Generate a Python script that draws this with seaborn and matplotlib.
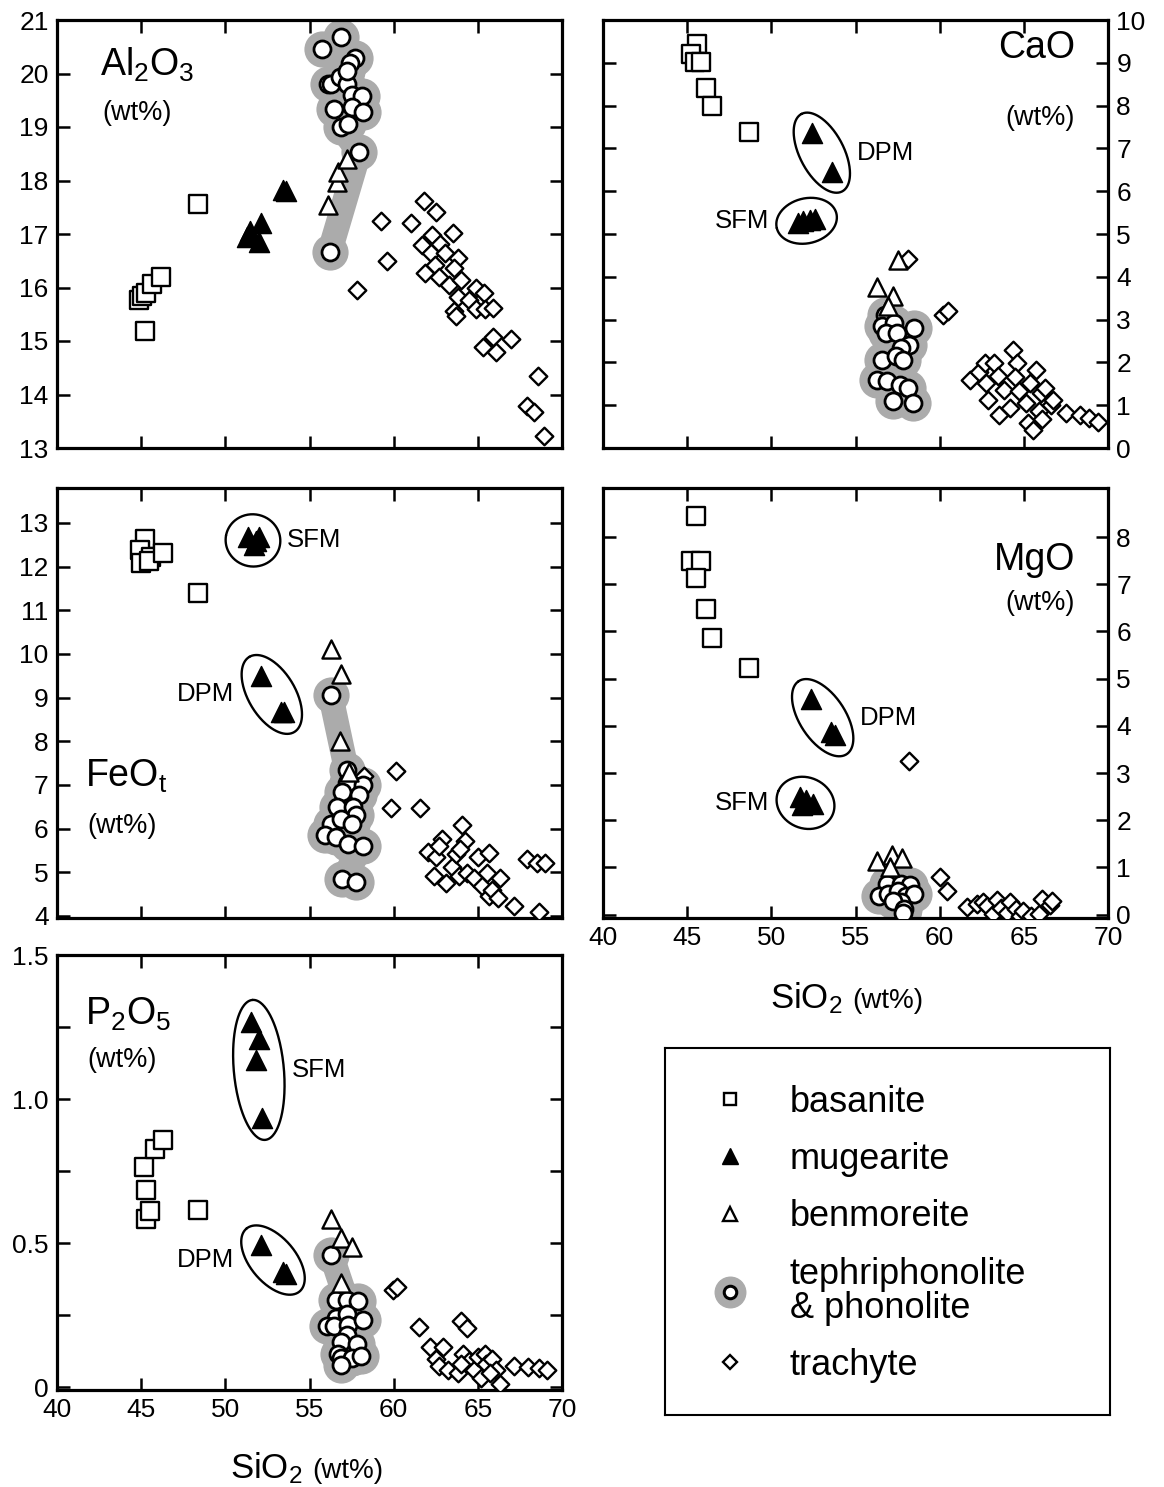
import numpy as np
import pandas as pd
import matplotlib
matplotlib.use("Agg")
import matplotlib.pyplot as plt
import seaborn as sns
from matplotlib.lines import Line2D

sns.set_theme(style="ticks")
plt.rcParams["font.family"] = ["Liberation Sans", "DejaVu Sans"]
plt.rcParams["mathtext.fontset"] = "custom"
plt.rcParams["mathtext.rm"] = "Liberation Sans"
plt.rcParams["mathtext.it"] = "Liberation Sans:italic"
plt.rcParams["mathtext.bf"] = "Liberation Sans:bold"
plt.rcParams["mathtext.default"] = "regular"
plt.rcParams["text.color"] = "black"
plt.rcParams["axes.labelcolor"] = "black"
plt.rcParams["xtick.color"] = "black"
plt.rcParams["ytick.color"] = "black"
plt.rcParams["legend.labelcolor"] = "black"

# ---------------- data (SiO2 wt% on x) ----------------
# Al2O3 panel
al_bas_x = [44.9, 45.05, 45.3, 45.65, 46.2, 45.25, 48.4]
al_bas_y = [15.77, 15.85, 15.9, 16.06, 16.2, 15.18, 17.56]
al_mug_x = [51.3, 51.45, 52.0, 52.1, 53.4, 53.6]
al_mug_y = [16.95, 17.05, 16.85, 17.2, 17.83, 17.8]
al_ben_x = [56.1, 56.65, 56.7, 57.25]
al_ben_y = [17.55, 17.98, 18.15, 18.4]
al_pho_x = [55.75, 56.9, 57.7, 57.4, 56.1, 56.3, 56.8, 57.2, 57.5, 58.1, 56.45, 57.5, 58.2, 56.85, 57.3, 57.2, 57.95, 56.2]
al_pho_y = [20.46, 20.69, 20.29, 20.2, 19.8, 19.8, 19.94, 19.8, 19.59, 19.58, 19.33, 19.38, 19.28, 19.0, 19.06, 20.05, 18.53, 16.67]
al_tra_x = [57.8, 59.25, 59.6, 61.0, 61.8, 62.5, 63.55, 62.25, 61.7, 62.2, 62.75, 63.05, 61.85, 62.45, 62.7, 63.3, 63.8, 63.6,
            64.0, 63.6, 63.7, 63.85, 64.5, 64.9, 64.9, 65.35, 65.45, 65.9, 65.3, 65.9, 66.1, 66.95, 68.55, 67.9, 68.35, 68.95]
al_tra_y = [15.96, 17.24, 16.49, 17.21, 17.62, 17.41, 17.01, 16.98, 16.79, 16.64, 16.81, 16.64, 16.27, 16.42, 16.2, 16.05, 16.55, 16.36,
            16.14, 15.56, 15.46, 15.83, 15.77, 15.99, 15.59, 15.9, 15.59, 15.62, 14.89, 15.08, 14.8, 15.03, 14.35, 13.78, 13.67, 13.22]

# CaO panel
ca_bas_x = [45.6, 45.25, 45.45, 45.85, 46.1, 46.5, 48.65]
ca_bas_y = [9.45, 9.2, 9.02, 9.02, 8.42, 7.99, 7.39]
ca_mug_x = [52.4, 53.6, 51.6, 51.9, 52.3, 52.6]
ca_mug_y = [7.35, 6.45, 5.25, 5.3, 5.33, 5.35]
ca_mug_grp = ["DPM", "DPM", "SFM", "SFM", "SFM", "SFM"]
ca_ben_x = [57.5, 56.3, 57.2, 56.95]
ca_ben_y = [4.4, 3.76, 3.54, 3.31]
ca_pho_x = [56.75, 56.6, 57.3, 58.45, 56.8, 57.45, 58.2, 57.7, 56.6, 57.4, 57.85, 56.25, 56.9, 57.65, 58.1, 57.2, 58.4]
ca_pho_y = [3.11, 2.84, 2.92, 2.8, 2.69, 2.69, 2.41, 2.34, 2.06, 2.14, 2.06, 1.6, 1.56, 1.48, 1.4, 1.09, 1.05]
ca_tra_x = [58.1, 60.2, 60.5, 61.8, 62.35, 62.7, 63.2, 62.75, 62.9, 63.45, 63.55, 63.8, 64.2, 64.35, 64.6, 64.7, 64.45, 65.15,
            65.25, 65.55, 65.35, 65.75, 65.9, 66.0, 66.1, 66.25, 66.6, 66.75, 67.5, 68.35, 68.9, 69.4]
ca_tra_y = [4.42, 3.11, 3.2, 1.58, 1.77, 1.99, 1.99, 1.52, 1.13, 1.69, 0.78, 1.36, 0.94, 2.3, 1.99, 1.33, 1.67, 1.05,
            0.59, 0.43, 1.52, 1.83, 0.86, 1.29, 0.67, 1.41, 1.01, 1.13, 0.82, 0.78, 0.7, 0.6]

# FeOt panel
fe_bas_x = [45.25, 44.95, 45.6, 45.0, 45.45, 46.3, 48.4]
fe_bas_y = [12.63, 12.38, 12.21, 12.09, 12.13, 12.32, 11.4]
fe_mug_x = [51.35, 51.7, 52.0, 51.85, 52.1, 53.3, 53.5]
fe_mug_y = [12.67, 12.5, 12.67, 12.58, 9.5, 8.66, 8.66]
fe_mug_grp = ["SFM", "SFM", "SFM", "SFM", "DPM", "DPM", "DPM"]
fe_ben_x = [56.3, 56.85, 56.8, 57.35]
fe_ben_y = [10.12, 9.54, 8.0, 7.3]
fe_pho_x = [56.25, 57.2, 57.2, 56.95, 58.15, 57.95, 56.65, 57.6, 57.75, 56.3, 56.85, 57.5, 55.9, 56.55, 57.3, 58.15, 56.95, 57.75]
fe_pho_y = [9.06, 7.34, 7.04, 6.84, 7.0, 6.77, 6.5, 6.5, 6.3, 6.11, 6.22, 6.11, 5.84, 5.8, 5.65, 5.61, 4.84, 4.78]
fe_tra_x = [58.25, 60.15, 59.85, 61.55, 62.05, 62.5, 62.85, 62.4, 63.1, 62.7, 63.45, 63.7, 64.05, 64.25, 63.95, 63.9, 64.35,
            64.8, 65.0, 65.25, 65.65, 65.55, 65.65, 65.85, 66.2, 66.3, 67.15, 67.95, 68.5, 69.0, 68.65]
fe_tra_y = [7.21, 7.32, 6.47, 6.47, 5.47, 5.34, 5.76, 4.91, 4.76, 5.6, 5.11, 5.41, 6.07, 5.72, 5.53, 4.91, 4.99,
            4.87, 5.34, 4.68, 5.45, 4.99, 4.45, 4.6, 4.41, 4.87, 4.23, 5.3, 5.22, 5.22, 4.08]

# MgO panel
mg_bas_x = [45.55, 45.25, 45.85, 45.55, 46.1, 46.5, 48.7]
mg_bas_y = [8.44, 7.49, 7.49, 7.13, 6.47, 5.86, 5.23]
mg_mug_x = [52.35, 53.55, 53.8, 51.7, 52.05, 52.5, 51.85]
mg_mug_y = [4.56, 3.87, 3.8, 2.5, 2.43, 2.35, 2.32]
mg_mug_grp = ["DPM", "DPM", "DPM", "SFM", "SFM", "SFM", "SFM"]
mg_ben_x = [56.3, 57.15, 57.75, 57.05]
mg_ben_y = [1.13, 1.27, 1.2, 1.0]
mg_pho_x = [56.85, 57.7, 58.25, 56.4, 56.95, 57.5, 58.0, 58.45, 57.7, 57.2, 57.9, 57.85]
mg_pho_y = [0.66, 0.66, 0.62, 0.4, 0.44, 0.51, 0.4, 0.44, 0.26, 0.3, 0.12, 0.04]
mg_tra_x = [58.15, 60.0, 60.45, 61.65, 62.2, 62.6, 62.8, 63.15, 63.4, 63.65, 64.0, 64.2, 64.55, 64.75, 64.95, 65.4, 65.9, 66.1, 66.55, 66.7]
mg_tra_y = [3.26, 0.8, 0.51, 0.17, 0.22, 0.26, 0.19, 0.02, 0.32, 0.15, 0.04, 0.27, 0.12, -0.02, 0.08, -0.03, 0.01, 0.33, 0.2, 0.3]

# P2O5 panel
p_bas_x = [45.15, 45.3, 45.3, 45.55, 45.85, 46.3, 48.4]
p_bas_y = [0.765, 0.684, 0.584, 0.612, 0.825, 0.859, 0.614]
p_mug_x = [51.55, 52.0, 51.8, 52.2, 52.1, 53.4, 53.6]
p_mug_y = [1.267, 1.21, 1.135, 0.934, 0.492, 0.398, 0.392]
p_mug_grp = ["SFM", "SFM", "SFM", "SFM", "DPM", "DPM", "DPM"]
p_ben_x = [56.3, 56.85, 57.5, 56.85]
p_ben_y = [0.584, 0.518, 0.488, 0.361]
p_pho_x = [56.3, 56.55, 57.2, 57.9, 56.6, 57.25, 56.05, 56.45, 57.3, 58.15, 57.2, 56.85, 57.8, 56.7, 56.85, 57.5, 58.05, 56.9]
p_pho_y = [0.458, 0.301, 0.301, 0.299, 0.241, 0.253, 0.211, 0.211, 0.217, 0.233, 0.181, 0.157, 0.151, 0.114, 0.102, 0.102, 0.108, 0.078]
p_tra_x = [59.95, 60.2, 61.5, 64.0, 64.35, 62.15, 62.95, 62.5, 62.7, 63.25, 63.8, 64.1, 64.45, 64.0, 64.75, 65.0, 65.2, 65.4,
           65.5, 65.85, 66.05, 65.7, 66.3, 67.15, 68.0, 68.65, 69.1]
p_tra_y = [0.337, 0.349, 0.207, 0.231, 0.205, 0.139, 0.139, 0.097, 0.072, 0.06, 0.048, 0.115, 0.091, 0.079, 0.06, 0.103, 0.03, 0.115,
           0.079, 0.097, 0.06, 0.048, 0.012, 0.075, 0.07, 0.066, 0.06]

legend_labels = ["basanite", "mugearite", "benmoreite", "tephriphonolite\n& phonolite", "trachyte"]

# ---------------- styling ----------------
W, H = 1164, 1487
BLOB = "#ababab"
EDGE = 1.7
fig = plt.figure(figsize=(W / 100, H / 100), dpi=100)
fig.patch.set_facecolor("white")


def make_axes(left, top, right, bottom):
    return fig.add_axes([left / W, 1 - bottom / H, (right - left) / W, (bottom - top) / H])


def setup(ax, ylim, yticks, ylabels, side, xlabels):
    ax.set_facecolor("white")
    ax.set_xlim(40, 70)
    ax.set_ylim(*ylim)
    ax.set_xticks(list(range(40, 71, 5)))
    ax.set_yticks(yticks)
    ax.set_yticklabels(ylabels)
    ax.tick_params(direction="in", length=9, width=1.8, top=True, right=True,
                   labelsize=19, pad=6, colors="black")
    ax.tick_params(axis="y", labelleft=(side == "left"), labelright=(side == "right"))
    ax.tick_params(axis="x", labelbottom=xlabels)
    for sp in ax.spines.values():
        sp.set_linewidth(2.3)
        sp.set_color("black")
    ax.set_xlabel("")
    ax.set_ylabel("")
    ax.grid(False)


def blob(ax, xs, ys):
    order = np.argsort(ys)
    df = pd.DataFrame({"x": np.asarray(xs)[order], "y": np.asarray(ys)[order]})
    sns.lineplot(data=df, x="x", y="y", sort=False, estimator=None, color=BLOB, lw=18,
                 solid_capstyle="round", solid_joinstyle="round", ax=ax, zorder=1)
    sns.scatterplot(data=df, x="x", y="y", s=680, color=BLOB, linewidth=0, ax=ax, zorder=1)


def points(ax, bx, by, mx, my, nx, ny, px, py, tx, ty):
    blob(ax, px, py)
    sns.scatterplot(x=tx, y=ty, marker="D", s=80, color="white", edgecolor="black", linewidth=EDGE, ax=ax, zorder=3)
    sns.scatterplot(x=px, y=py, marker="o", s=150, color="white", edgecolor="black", linewidth=EDGE + 0.3, ax=ax, zorder=4)
    sns.scatterplot(x=nx, y=ny, marker="^", s=170, color="white", edgecolor="black", linewidth=EDGE, ax=ax, zorder=5)
    sns.scatterplot(x=bx, y=by, marker="s", s=150, color="white", edgecolor="black", linewidth=EDGE, ax=ax, zorder=5)
    sns.scatterplot(x=mx, y=my, marker="^", s=210, color="black", edgecolor="black", linewidth=1, ax=ax, zorder=5)


def ring(ax, xs, ys, label, side, pad=22, rmin=22):
    pts = ax.transData.transform(np.column_stack([xs, ys]))
    c = pts.mean(axis=0)
    d = pts - c
    if np.allclose(d, 0):
        u = np.array([1.0, 0.0])
    else:
        _, v = np.linalg.eigh(d.T @ d)
        u = v[:, -1]
    n = np.array([-u[1], u[0]])
    pu, pn = d @ u, d @ n
    c = c + u * (pu.max() + pu.min()) / 2 + n * (pn.max() + pn.min()) / 2
    a = max((pu.max() - pu.min()) / 2 + pad, rmin)
    b = max((pn.max() - pn.min()) / 2 + pad, rmin)
    t = np.linspace(0, 2 * np.pi, 240)
    ring_px = c + np.outer(a * np.cos(t), u) + np.outer(b * np.sin(t), n)
    rd = ax.transData.inverted().transform(ring_px)
    ax.plot(rd[:, 0], rd[:, 1], color="black", lw=1.7, zorder=6)
    if side == "right":
        tx, ha = ring_px[:, 0].max() + 7, "left"
    else:
        tx, ha = ring_px[:, 0].min() - 7, "right"
    td = ax.transData.inverted().transform([[tx, c[1]]])[0]
    ax.text(td[0], td[1], label, ha=ha, va="center", fontsize=18.5, color="black", zorder=7)


def rings(ax, mx, my, grp, sides):
    mx, my, grp = np.asarray(mx), np.asarray(my), np.asarray(grp)
    for g, side in sides.items():
        m = grp == g
        ring(ax, mx[m], my[m], g, side)


def oxide_label(ax, name, x, y1, y2, ha):
    ax.text(x, y1, name, transform=ax.transAxes, ha=ha, va="baseline", fontsize=27, color="black")
    ax.text(x + (0.005 if ha == "left" else 0), y2, "(wt%)", transform=ax.transAxes,
            ha=ha, va="baseline", fontsize=19.5, color="black")


def sio2_label(ax, xsplit, y):
    ax.text(xsplit - 0.01, y, "SiO$_2$", transform=ax.transAxes, ha="right", va="baseline", fontsize=25, color="black")
    ax.text(xsplit + 0.008, y, "(wt%)", transform=ax.transAxes, ha="left", va="baseline", fontsize=20, color="black")


# ---------------- panels ----------------
ax_al = make_axes(57, 20, 562, 448)
ax_ca = make_axes(603, 20, 1108, 448)
ax_fe = make_axes(57, 488, 562, 918)
ax_mg = make_axes(603, 488, 1108, 918)
ax_p = make_axes(57, 955, 562, 1390)

LIMS = {"al": (13, 21), "ca": (0, 10), "fe": (3.95, 13.8), "mg": (-0.07, 9.04), "p": (-0.01, 1.5)}

setup(ax_al, LIMS["al"], list(range(13, 22)), [str(v) for v in range(13, 22)], "left", False)
setup(ax_ca, LIMS["ca"], list(range(0, 11)), [str(v) for v in range(0, 11)], "right", False)
setup(ax_fe, LIMS["fe"], list(range(4, 14)), [str(v) for v in range(4, 14)], "left", False)
setup(ax_mg, LIMS["mg"], list(range(0, 9)), [str(v) for v in range(0, 9)], "right", True)
setup(ax_p, LIMS["p"], [0, 0.25, 0.5, 0.75, 1.0, 1.25, 1.5], ["0", "", "0.5", "", "1.0", "", "1.5"], "left", True)

points(ax_al, al_bas_x, al_bas_y, al_mug_x, al_mug_y, al_ben_x, al_ben_y, al_pho_x, al_pho_y, al_tra_x, al_tra_y)
points(ax_ca, ca_bas_x, ca_bas_y, ca_mug_x, ca_mug_y, ca_ben_x, ca_ben_y, ca_pho_x, ca_pho_y, ca_tra_x, ca_tra_y)
points(ax_fe, fe_bas_x, fe_bas_y, fe_mug_x, fe_mug_y, fe_ben_x, fe_ben_y, fe_pho_x, fe_pho_y, fe_tra_x, fe_tra_y)
points(ax_mg, mg_bas_x, mg_bas_y, mg_mug_x, mg_mug_y, mg_ben_x, mg_ben_y, mg_pho_x, mg_pho_y, mg_tra_x, mg_tra_y)
points(ax_p, p_bas_x, p_bas_y, p_mug_x, p_mug_y, p_ben_x, p_ben_y, p_pho_x, p_pho_y, p_tra_x, p_tra_y)

for ax, key in ((ax_al, "al"), (ax_ca, "ca"), (ax_fe, "fe"), (ax_mg, "mg"), (ax_p, "p")):
    ax.set_xlim(40, 70)
    ax.set_ylim(*LIMS[key])
    ax.set_xlabel("")
    ax.set_ylabel("")

rings(ax_ca, ca_mug_x, ca_mug_y, ca_mug_grp, {"DPM": "right", "SFM": "left"})
rings(ax_fe, fe_mug_x, fe_mug_y, fe_mug_grp, {"SFM": "right", "DPM": "left"})
rings(ax_mg, mg_mug_x, mg_mug_y, mg_mug_grp, {"DPM": "right", "SFM": "left"})
rings(ax_p, p_mug_x, p_mug_y, p_mug_grp, {"SFM": "right", "DPM": "left"})

oxide_label(ax_al, "Al$_2$O$_3$", 0.085, 0.87, 0.766, "left")
oxide_label(ax_ca, "CaO", 0.935, 0.912, 0.755, "right")
oxide_label(ax_fe, "FeO$_t$", 0.056, 0.305, 0.198, "left")
oxide_label(ax_mg, "MgO", 0.935, 0.81, 0.716, "right")
oxide_label(ax_p, "P$_2$O$_5$", 0.056, 0.84, 0.743, "left")

sio2_label(ax_mg, 0.485, -0.209)
sio2_label(ax_p, 0.497, -0.202)

# ---------------- legend ----------------
lax = make_axes(665, 1048, 1110, 1415)
lax.set_xticks([])
lax.set_yticks([])
lax.set_facecolor("white")
for sp in lax.spines.values():
    sp.set_linewidth(1.5)
    sp.set_color("black")
h_bas = Line2D([], [], ls="", marker="s", ms=9, mfc="white", mec="black", mew=1.7)
h_mug = Line2D([], [], ls="", marker="^", ms=11, mfc="black", mec="black")
h_ben = Line2D([], [], ls="", marker="^", ms=10, mfc="white", mec="black", mew=1.7)
h_blob = Line2D([], [], ls="", marker="o", ms=22, mfc=BLOB, mec=BLOB)
h_pho = Line2D([], [], ls="", marker="o", ms=9, mfc="white", mec="black", mew=2.2)
h_tra = Line2D([], [], ls="", marker="D", ms=7, mfc="white", mec="black", mew=1.7)
leg = lax.legend([h_bas, h_mug, h_ben, (h_blob, h_pho), h_tra], legend_labels,
                 loc="upper left", bbox_to_anchor=(0.098, 0.90), frameon=False,
                 fontsize=26, handlelength=1.2, handletextpad=1.05, labelspacing=0.62,
                 borderpad=0, borderaxespad=0, labelcolor="black")
for t in leg.get_texts():
    t.set_linespacing(0.95)
    t.set_color("black")

fig.savefig("out.png", dpi=100, facecolor="white")
